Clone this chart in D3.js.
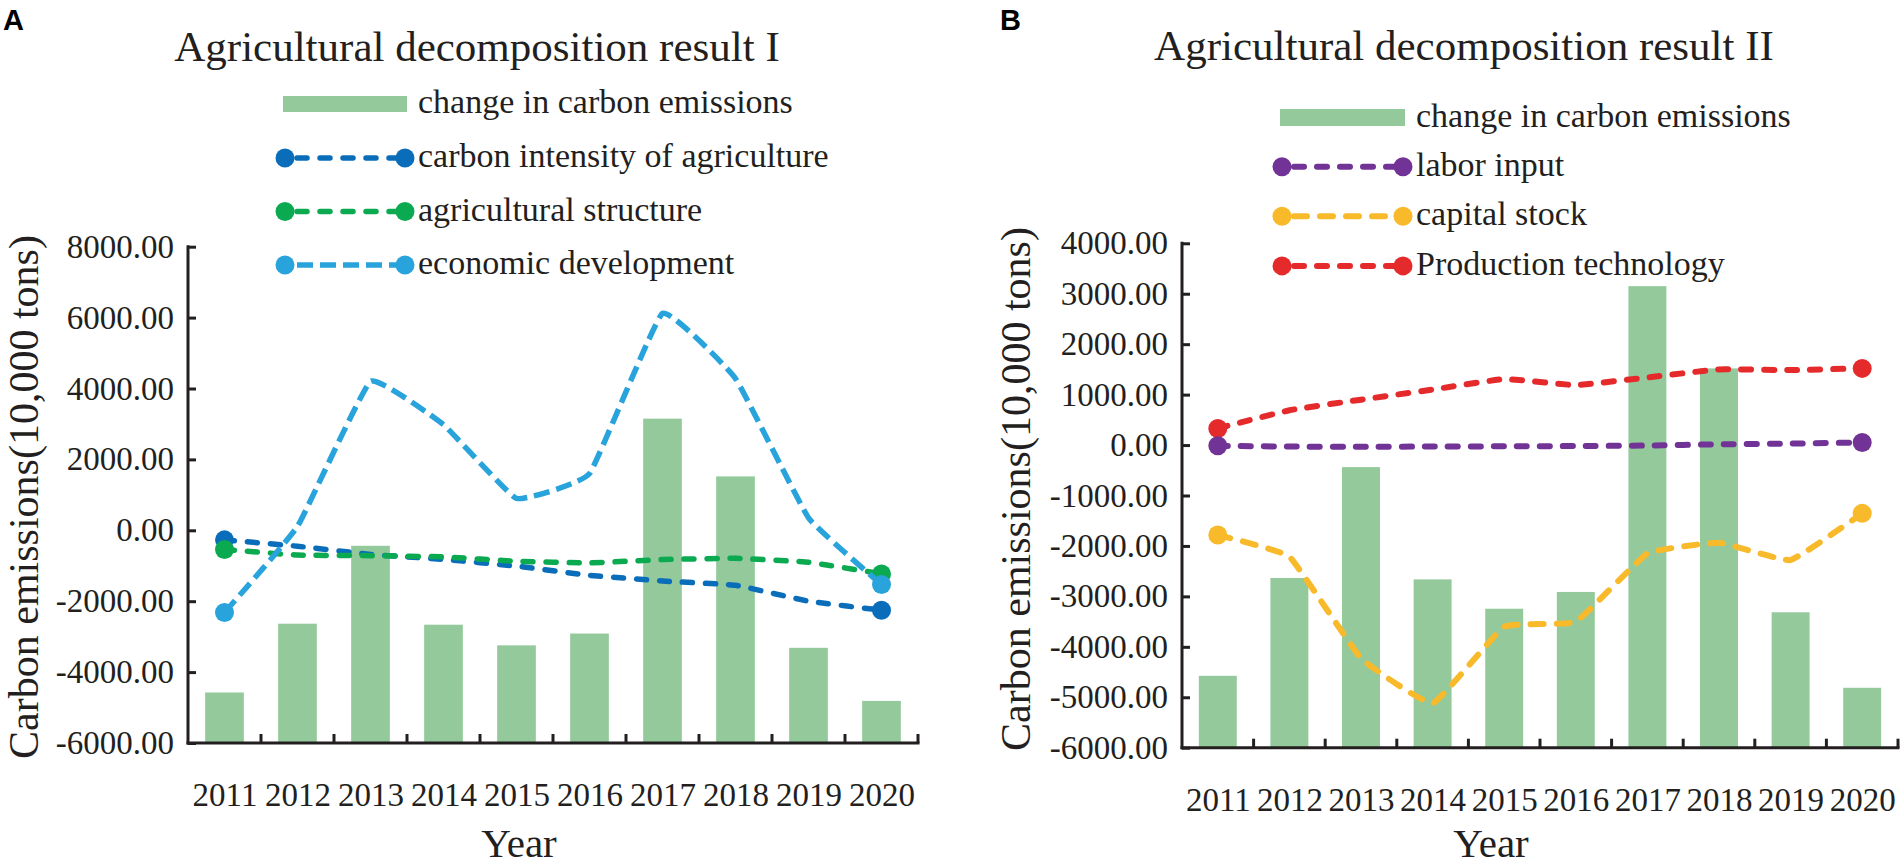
<!DOCTYPE html>
<html>
<head>
<meta charset="utf-8">
<script src="https://cdn.jsdelivr.net/npm/d3@7"></script>
<style>
  html, body { margin: 0; padding: 0; background: #ffffff; }
  svg { display: block; }
</style>
</head>
<body>
<svg id="chart" width="1904" height="867"></svg>
<script>
// ---------------- DATA ----------------
const years = ['2011','2012','2013','2014','2015','2016','2017','2018','2019','2020'];

const changeCarbon   = [-4575, -2635, -437, -2663, -3245, -2912, 3150, 1520, -3315, -4812];

// Panel A
const carbonIntensity = [-270, -450, -680, -820, -1010, -1270, -1430, -1550, -2000, -2254];
const agriStructure   = [-540, -700, -715, -750, -873, -920, -825, -790, -900, -1230];
const economicDev     = [-2320, 110, 4200, 2980, 900, 1600, 6120, 4280, 350, -1530];

// Panel B
const laborInput     = [-15, -30, -33, -30, -25, -20, -10, 15, 30, 50];
const capitalStock   = [-1784, -2214, -4228, -5120, -3601, -3502, -2147, -1936, -2280, -1354];
const productionTech = [330, 690, 900, 1100, 1308, 1189, 1340, 1500, 1487, 1520];

const yTicksA = [-6000, -4000, -2000, 0, 2000, 4000, 6000, 8000];
const yTicksB = [-6000, -5000, -4000, -3000, -2000, -1000, 0, 1000, 2000, 3000, 4000];

const titleA = 'Agricultural decomposition result I';
const titleB = 'Agricultural decomposition result II';
const barLabel = 'change in carbon emissions';
const yLabel = 'Carbon emissions(10,000 tons)';
const xLabel = 'Year';

// ---------------- DRAW ----------------
const svg = d3.select('#chart');
const TXT = '#231F20';
const SERIF = '"Liberation Serif", "Times New Roman", serif';
const BAR = '#93C99B';

const panels = [
  {
    letter: 'A', letterX: 3, title: titleA, titleX: 477, titleY: 61,
    x0: 188, x1: 918, yTopPx: 246.7, yBotPx: 743, domain: [-6000, 8000], ticks: yTicksA,
    yLabX: 38, yLabY: 497, xLabX: 519, xLabY: 857, xTickPad: 40,
    legX0: 285, legX1: 405, legTextX: 418, legBarY: 104, legBarH: 16, legStart: 158, legStep: 53.5,
    series: [
      { name: 'carbon intensity of agriculture', values: carbonIntensity, color: '#0A6DBA', dash: '10 13', cap: 'round', w: 5.5 },
      { name: 'agricultural structure', values: agriStructure, color: '#0BAA50', dash: '10 13', cap: 'round', w: 5.5 },
      { name: 'economic development', values: economicDev, color: '#28A3DB', dash: '16 7', cap: 'butt', w: 5.5 }
    ],
    drawOrder: [0, 1, 2]
  },
  {
    letter: 'B', letterX: 1000, title: titleB, titleX: 1464, titleY: 60,
    x0: 1182, x1: 1898, yTopPx: 243.3, yBotPx: 747.7, domain: [-6000, 4000], ticks: yTicksB,
    yLabX: 1030, yLabY: 489, xLabX: 1491, xLabY: 857, xTickPad: 40,
    legX0: 1282, legX1: 1403, legTextX: 1416, legBarY: 117.5, legBarH: 17, legStart: 166.7, legStep: 49.6,
    series: [
      { name: 'labor input', values: laborInput, color: '#723396', dash: '10 13', cap: 'round', w: 6 },
      { name: 'capital stock', values: capitalStock, color: '#F8BA2B', dash: '13 13', cap: 'round', w: 6 },
      { name: 'Production technology', values: productionTech, color: '#E52A2C', dash: '10 13', cap: 'round', w: 6 }
    ],
    drawOrder: [2, 1, 0]
  }
];

panels.forEach(p => {
  const g = svg.append('g');
  const x = d3.scaleBand().domain(years).range([p.x0, p.x1]).padding(0);
  const y = d3.scaleLinear().domain(p.domain).range([p.yBotPx, p.yTopPx]);
  const cx = d => x(d) + x.bandwidth() / 2;
  const barW = x.bandwidth() * 0.53;

  // panel letter
  g.append('text').attr('x', p.letterX).attr('y', 30)
    .attr('font-family', '"Liberation Sans", Arial, sans-serif').attr('font-weight', 'bold')
    .attr('font-size', 29).attr('fill', '#000').text(p.letter);

  // title
  g.append('text').attr('x', p.titleX).attr('y', p.titleY).attr('text-anchor', 'middle')
    .attr('font-family', SERIF).attr('font-size', 43).attr('fill', TXT).text(p.title);

  // bars
  g.append('g').selectAll('rect').data(years).join('rect')
    .attr('x', d => cx(d) - barW / 2)
    .attr('width', barW)
    .attr('y', (d, i) => y(Math.max(changeCarbon[i], p.domain[0])))
    .attr('height', (d, i) => y(p.domain[0]) - y(changeCarbon[i]))
    .attr('fill', BAR);

  // y axis
  const yAxis = d3.axisLeft(y).tickValues(p.ticks).tickFormat(d => d.toFixed(2))
    .tickSizeInner(-8).tickSizeOuter(0).tickPadding(14);
  const ya = g.append('g').attr('transform', `translate(${p.x0},0)`).call(yAxis);
  ya.select('.domain').attr('stroke', TXT).attr('stroke-width', 3)
    .attr('d', `M0,${p.yTopPx - 1.5}V${p.yBotPx + 1.5}`);
  ya.selectAll('.tick line').attr('stroke', TXT).attr('stroke-width', 3);
  ya.selectAll('.tick text').attr('font-family', SERIF).attr('font-size', 33).attr('fill', TXT);

  // x axis: labels at band centres
  const xAxis = d3.axisBottom(d3.scalePoint().domain(years).range([cx(years[0]), cx(years[years.length - 1])]))
    .tickSize(0).tickPadding(p.xTickPad);
  const xa = g.append('g').attr('transform', `translate(0,${p.yBotPx})`).call(xAxis);
  xa.select('.domain').remove();
  xa.selectAll('.tick text').attr('font-family', SERIF).attr('font-size', 33).attr('fill', TXT);
  // axis line and inside ticks at band boundaries
  g.append('line').attr('x1', p.x0 - 1.5).attr('x2', p.x1 + 1.5)
    .attr('y1', p.yBotPx).attr('y2', p.yBotPx).attr('stroke', TXT).attr('stroke-width', 3);
  const bounds = years.slice(1).map(d => x(d)).concat([p.x1]);
  g.append('g').selectAll('line').data(bounds).join('line')
    .attr('x1', d => d).attr('x2', d => d)
    .attr('y1', p.yBotPx).attr('y2', p.yBotPx - 9)
    .attr('stroke', TXT).attr('stroke-width', 3);

  // axis titles
  g.append('text').attr('transform', `translate(${p.yLabX},${p.yLabY}) rotate(-90)`)
    .attr('text-anchor', 'middle').attr('font-family', SERIF).attr('font-size', 42)
    .attr('fill', TXT).text(yLabel);
  g.append('text').attr('x', p.xLabX).attr('y', p.xLabY).attr('text-anchor', 'middle')
    .attr('font-family', SERIF).attr('font-size', 41).attr('fill', TXT).text(xLabel);

  // lines (light smoothing, as in the source)
  const line = d3.line().x((d, i) => cx(years[i])).y(d => y(d)).curve(d3.curveCardinal.tension(0.7));
  p.drawOrder.forEach(k => {
    const s = p.series[k];
    g.append('path').attr('d', line(s.values)).attr('fill', 'none')
      .attr('stroke', s.color).attr('stroke-width', s.w)
      .attr('stroke-dasharray', s.dash).attr('stroke-linecap', s.cap)
      .attr('stroke-linejoin', 'round');
    const ends = [0, s.values.length - 1];
    g.append('g').selectAll('circle').data(ends).join('circle')
      .attr('cx', i => cx(years[i])).attr('cy', i => y(s.values[i])).attr('r', 9.5)
      .attr('fill', s.color);
  });

  // legend
  const lg = g.append('g');
  lg.append('rect').attr('x', p.legX0 - 2).attr('width', p.legX1 - p.legX0 + 4)
    .attr('y', p.legBarY - p.legBarH / 2).attr('height', p.legBarH).attr('fill', BAR);
  lg.append('text').attr('x', p.legTextX).attr('y', p.legBarY + 9)
    .attr('font-family', SERIF).attr('font-size', 34).attr('fill', TXT).text(barLabel);
  p.series.forEach((s, i) => {
    const ly = p.legStart + i * p.legStep;
    lg.append('line').attr('x1', p.legX0 + 12).attr('x2', p.legX1 - 6).attr('y1', ly).attr('y2', ly)
      .attr('stroke', s.color).attr('stroke-width', s.w)
      .attr('stroke-dasharray', s.dash).attr('stroke-linecap', s.cap);
    lg.append('line').attr('x1', p.legX0).attr('x2', p.legX0 + 8).attr('y1', ly).attr('y2', ly)
      .attr('stroke', s.color).attr('stroke-width', s.w);
    [p.legX0, p.legX1].forEach(xx => {
      lg.append('circle').attr('cx', xx).attr('cy', ly).attr('r', 9.5).attr('fill', s.color);
    });
    lg.append('text').attr('x', p.legTextX).attr('y', ly + 9)
      .attr('font-family', SERIF).attr('font-size', 34).attr('fill', TXT).text(s.name);
  });
});
</script>
</body>
</html>
